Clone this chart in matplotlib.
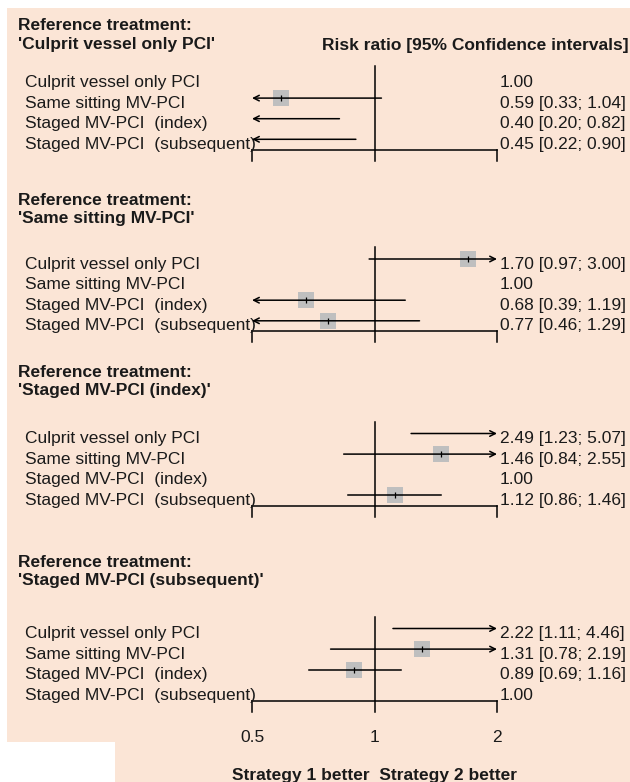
import matplotlib.pyplot as plt
import matplotlib.transforms as mtransforms
from matplotlib.patches import Polygon

plt.rcParams['font.family'] = ['Liberation Sans', 'DejaVu Sans']

# treatments compared in every block
treatments = ['Culprit vessel only PCI', 'Same sitting MV-PCI',
              'Staged MV-PCI  (index)', 'Staged MV-PCI  (subsequent)']
ref_names = ["'Culprit vessel only PCI'", "'Same sitting MV-PCI'",
             "'Staged MV-PCI (index)'", "'Staged MV-PCI (subsequent)'"]

# risk ratios with 95% CI, one block per reference treatment
rr_culprit = [1.00, 0.59, 0.40, 0.45]
lo_culprit = [1.00, 0.33, 0.20, 0.22]
hi_culprit = [1.00, 1.04, 0.82, 0.90]

rr_same = [1.70, 1.00, 0.68, 0.77]
lo_same = [0.97, 1.00, 0.39, 0.46]
hi_same = [3.00, 1.00, 1.19, 1.29]

rr_index = [2.49, 1.46, 1.00, 1.12]
lo_index = [1.23, 0.84, 1.00, 0.86]
hi_index = [5.07, 2.55, 1.00, 1.46]

rr_subseq = [2.22, 1.31, 0.89, 1.00]
lo_subseq = [1.11, 0.78, 0.69, 1.00]
hi_subseq = [4.46, 2.19, 1.16, 1.00]

tick_vals = [0.5, 1, 2]
tick_labels = ['0.5', '1', '2']

blocks = [(rr_culprit, lo_culprit, hi_culprit),
          (rr_same, lo_same, hi_same),
          (rr_index, lo_index, hi_index),
          (rr_subseq, lo_subseq, hi_subseq)]

# layout in pixels (y measured from the top)
W, H = 630, 782
row1 = [77.5, 259, 433.5, 628.5]
row_gap = 20.6
title_y = [(30, 49), (205, 223), (377, 395), (567, 585)]
x_lab, x_title, x_val = 25, 18, 500

BG = '#FBE5D6'
TXT = '#1a1a1a'
FS = 12.5
LW = 1.1
xmin, xmax = 0.5, 2.0

fig = plt.figure(figsize=(W / 100, H / 100), dpi=100)
fig.patch.set_facecolor('white')

# peach panel with the notch at the lower left
pts = [(7, 8), (630, 8), (630, 782), (115, 782), (115, 742), (7, 742)]
fig.patches.append(Polygon([(x / W, 1 - y / H) for x, y in pts], closed=True,
                           transform=fig.transFigure, facecolor=BG,
                           edgecolor='none', zorder=-1))

ax = fig.add_axes([0, 0, 1, 1])
ax.set_xscale('log', base=2)
# 0.5 sits at x=252 px and 2 at x=497 px
px_per_dbl = (497 - 252) / 2
ax.set_xlim(2 ** (-1 - 252 / px_per_dbl), 2 ** (1 + (W - 497) / px_per_dbl))
ax.set_ylim(H, 0)
ax.axis('off')

fx = mtransforms.blended_transform_factory(ax.transAxes, ax.transData)

ax.text(322 / W, 50, 'Risk ratio [95% Confidence intervals]', transform=fx,
        fontsize=FS, fontweight='bold', color=TXT, va='baseline')

arrow_kw = dict(arrowstyle='->, head_length=0.4, head_width=0.2',
                lw=LW, color='black', shrinkA=0, shrinkB=0, mutation_scale=10)

for p, (rr, lo, hi) in enumerate(blocks):
    ys = [row1[p] + i * row_gap for i in range(len(treatments))]
    t1, t2 = title_y[p]
    ax.text(x_title / W, t1, 'Reference treatment:', transform=fx,
            fontsize=FS, fontweight='bold', color=TXT, va='baseline')
    ax.text(x_title / W, t2, ref_names[p], transform=fx,
            fontsize=FS, fontweight='bold', color=TXT, va='baseline')

    # null line and bottom axis with end ticks
    y_axis = ys[-1] + 10.5
    y_bot = ys[-1] + 21.5
    ax.plot([1, 1], [ys[0] - 12, y_bot], color='black', lw=LW)
    ax.plot([xmin, xmax], [y_axis, y_axis], color='black', lw=LW)
    ax.plot([xmin, xmin], [y_axis, y_bot], color='black', lw=LW)
    ax.plot([xmax, xmax], [y_axis, y_bot], color='black', lw=LW)

    for i, name in enumerate(treatments):
        y = ys[i]
        ax.text(x_lab / W, y + 9.5, name, transform=fx, fontsize=FS,
                color=TXT, va='baseline')
        if i == p:
            ax.text(x_val / W, y + 9.5, '1.00', transform=fx, fontsize=FS,
                    color=TXT, va='baseline')
            continue
        ax.text(x_val / W, y + 9.5, f'{rr[i]:.2f} [{lo[i]:.2f}; {hi[i]:.2f}]',
                transform=fx, fontsize=FS, color=TXT, va='baseline')

        if xmin <= rr[i] <= xmax:
            ax.plot(rr[i], y, marker='s', markersize=12, color='#BFBFBF',
                    markeredgewidth=0, zorder=2)
            ax.plot(rr[i], y, marker='|', markersize=4, color='black',
                    markeredgewidth=0.9, zorder=4)

        a, b = max(lo[i], xmin), min(hi[i], xmax)
        if lo[i] < xmin and hi[i] > xmax:
            ax.annotate('', xy=(xmin, y), xytext=(1, y), arrowprops=arrow_kw)
            ax.annotate('', xy=(xmax, y), xytext=(1, y), arrowprops=arrow_kw)
        elif lo[i] < xmin:
            ax.annotate('', xy=(xmin, y), xytext=(b, y), arrowprops=arrow_kw,
                        zorder=3)
        elif hi[i] > xmax:
            ax.annotate('', xy=(xmax, y), xytext=(a, y), arrowprops=arrow_kw,
                        zorder=3)
        else:
            ax.plot([a, b], [y, y], color='black', lw=LW, zorder=3)

for v, lab in zip(tick_vals, tick_labels):
    ax.text(v, 742, lab, fontsize=FS, color=TXT, ha='center', va='baseline')

ax.text(1, 780, 'Strategy 1 better  Strategy 2 better', fontsize=FS,
        fontweight='bold', color=TXT, ha='center', va='baseline')

fig.savefig('out.png', dpi=100, facecolor='white')
